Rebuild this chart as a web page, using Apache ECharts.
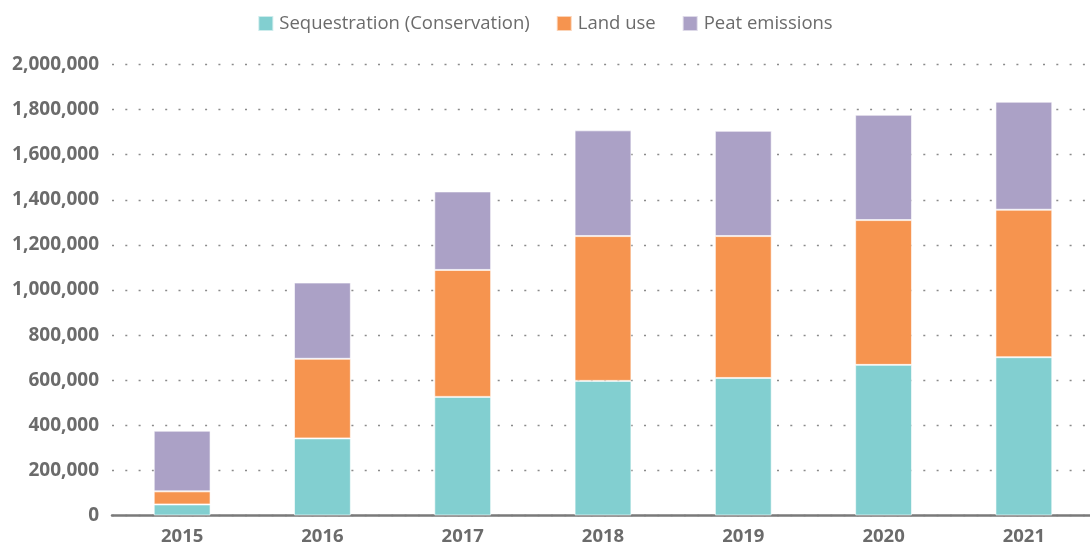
<!DOCTYPE html>
<html lang="en">
<head>
  <meta charset="UTF-8">
  <script src="https://cdn.jsdelivr.net/npm/echarts@6/dist/echarts.min.js"></script>
  <title>Emissions</title>
  <style>
    html, body { margin: 0; padding: 0; background: #fff; }
    .container { width: 1090px; height: 544px; }
  </style>
</head>
<body>
  <div class="container"></div>
  <script>
    const years = ["2015", "2016", "2017", "2018", "2019", "2020", "2021"];
    const sequestration = [49000, 342000, 526000, 597000, 610000, 668000, 702000];
    const landUse = [58000, 353000, 563000, 642000, 629000, 642000, 654000];
    const peat = [269000, 338000, 348000, 469000, 467000, 467000, 479000];
    const yTicks = [0, 2000000, 200000];

    const seriesStyle = (name, data, color) => ({
      name: name,
      type: "bar",
      stack: "total",
      data: data,
      barWidth: "40.5%",
      itemStyle: { color: color, borderColor: "rgba(255,255,255,0.6)", borderWidth: 1 },
    });

    const chart = echarts.init(document.querySelector(".container"));
    chart.setOption({
      animation: false,
      textStyle: { fontFamily: "Open Sans" },
      legend: {
        top: 9,
        left: "center",
        itemWidth: 15,
        itemHeight: 15,
        itemGap: 26,
        icon: "rect",
        textStyle: { fontSize: 18.5, color: "#6b6b6b", padding: [0, 0, 0, 1] },
      },
      grid: {
        left: 112, width: 982, top: 64.5, bottom: 28.5,
        containLabel: false, outerBoundsMode: "none",
      },
      xAxis: {
        type: "category",
        data: years,
        axisLine: { lineStyle: { color: "#7a7a7a", width: 2.5 } },
        axisTick: { show: false },
        axisLabel: { fontSize: 18.5, fontWeight: "bold", color: "#6b6b6b", margin: 12 },
      },
      yAxis: {
        type: "value",
        min: yTicks[0],
        max: yTicks[1],
        interval: yTicks[2],
        axisLine: { show: false },
        axisTick: { show: false },
        splitLine: { lineStyle: { color: "#8a8a8a", type: [2, 11.3], width: 1.3 } },
        axisLabel: {
          fontSize: 19,
          fontWeight: "bold",
          color: "#6b6b6b",
          margin: 13,
          formatter: (v) => v.toLocaleString("en-US"),
        },
      },
      series: [
        seriesStyle("Sequestration (Conservation)", sequestration, "#82cfd0"),
        seriesStyle("Land use", landUse, "#f6944f"),
        seriesStyle("Peat emissions", peat, "#aba1c6"),
      ],
    });
  </script>
</body>
</html>
